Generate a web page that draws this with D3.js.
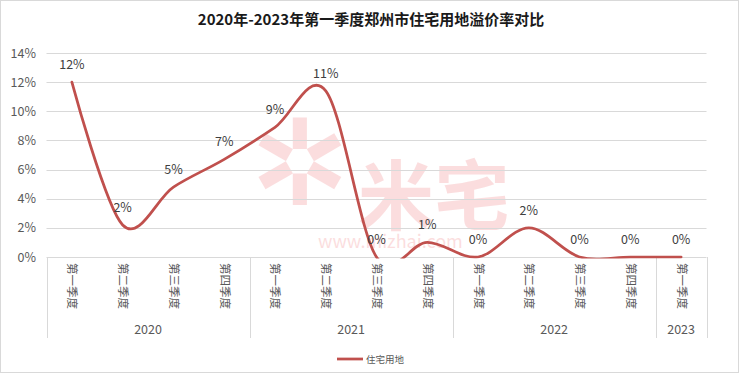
<!DOCTYPE html>
<html>
<head>
<meta charset="utf-8">
<script src="https://cdn.jsdelivr.net/npm/d3@7"></script>
<style>
  body { margin: 0; background: #fff; }
  text { font-family: "Noto Sans CJK SC", "Noto Sans", sans-serif; }
</style>
</head>
<body>
<div id="chart"></div>
<script>
// data
const years = ["2020", "2021", "2022", "2023"]
const yearCounts = [4, 4, 4, 1]
const quarters = ["第一季度", "第二季度", "第三季度", "第四季度",
                  "第一季度", "第二季度", "第三季度", "第四季度",
                  "第一季度", "第二季度", "第三季度", "第四季度",
                  "第一季度"]
const rates = [12.0, 2.2, 4.8, 6.7, 8.9, 11.4, 0.0, 1.0, 0.0, 2.0, 0.0, 0.0, 0.0]
const yTicks = [0, 2, 4, 6, 8, 10, 12, 14]
const seriesName = "住宅用地"

const width = 740, height = 374
const svg = d3.select("#chart").append("svg")
    .attr("width", width)
    .attr("height", height)

// outer frame
svg.append("rect")
    .attr("x", 0.5).attr("y", 0.5)
    .attr("width", width - 2).attr("height", height - 2)
    .attr("fill", "#fff").attr("stroke", "#d9d9d9")

// scales
const ids = quarters.map((q, i) => i)
const x = d3.scaleBand().domain(ids).range([46.5, 706.5]).padding(0)
const y = d3.scaleLinear().domain([0, 14]).range([257, 53])

// title
svg.append("text")
    .attr("x", 371).attr("y", 25)
    .attr("text-anchor", "middle")
    .attr("font-size", 15).attr("font-weight", "bold")
    .attr("fill", "#1a1a1a")
    .text("2020年-2023年第一季度郑州市住宅用地溢价率对比")

// watermark (logo + name + site)
const wm = svg.append("g").attr("opacity", 0.15).attr("fill", "#e8262b")
wm.append("text")
    .attr("x", 358).attr("y", 224)
    .attr("font-size", 76).attr("font-weight", "bold")
    .text("米宅")
wm.append("text")
    .attr("x", 300).attr("y", 205)
    .attr("text-anchor", "middle")
    .attr("font-size", 120)
    .style("font-family", "DejaVu Sans")
    .text("✲")
wm.append("text")
    .attr("x", 318).attr("y", 248)
    .attr("font-size", 18).attr("font-family", "Arial, sans-serif")
    .text("www.mizhai.com")

// gridlines + y labels
svg.append("g").selectAll("line").data(yTicks.slice(1)).join("line")
    .attr("x1", 46.5).attr("x2", 706.5)
    .attr("y1", d => Math.round(y(d)) + 0.5).attr("y2", d => Math.round(y(d)) + 0.5)
    .attr("stroke", "#d9d9d9")
svg.append("g").selectAll("text").data(yTicks).join("text")
    .attr("x", 36).attr("y", d => y(d) + 4.5)
    .attr("text-anchor", "end")
    .attr("font-size", 12.5).attr("fill", "#595959")
    .text(d => d + "%")

// category axis box
svg.append("line")
    .attr("x1", 46.5).attr("x2", 706.5).attr("y1", 257.5).attr("y2", 257.5)
    .attr("stroke", "#d9d9d9")
let starts = [0]
yearCounts.forEach((c, i) => starts.push(starts[i] + c))
const sepX = starts.map(s => s < quarters.length ? x(s) : x.range()[1])
svg.append("g").selectAll("line").data(sepX).join("line")
    .attr("x1", d => Math.round(d) + 0.5).attr("x2", d => Math.round(d) + 0.5)
    .attr("y1", 257).attr("y2", 338)
    .attr("stroke", "#d9d9d9")

// rotated quarter labels
svg.append("g").selectAll("text").data(quarters).join("text")
    .attr("transform", (d, i) => `translate(${x(i) + x.bandwidth() / 2 - 3.5},263) rotate(90)`)
    .attr("font-size", 11.5).attr("fill", "#595959")
    .text(d => d)

// year labels
svg.append("g").selectAll("text").data(years).join("text")
    .attr("x", (d, i) => (sepX[i] + sepX[i + 1]) / 2)
    .attr("y", 334)
    .attr("text-anchor", "middle")
    .attr("font-size", 12.5).attr("fill", "#595959")
    .text(d => d)

// smooth line, clipped to plot area
svg.append("clipPath").attr("id", "plotClip")
    .append("rect").attr("x", 40).attr("y", 40).attr("width", 680).attr("height", 218.5)
const line = d3.line()
    .x((d, i) => x(i) + x.bandwidth() / 2)
    .y(d => y(d))
    .curve(d3.curveCardinal.tension(0))
svg.append("path")
    .datum(rates)
    .attr("clip-path", "url(#plotClip)")
    .attr("d", line)
    .attr("fill", "none")
    .attr("stroke", "#c0504d")
    .attr("stroke-width", 2.75)
    .attr("stroke-linecap", "round")

// data labels
svg.append("g").selectAll("text").data(rates).join("text")
    .attr("x", (d, i) => x(i) + x.bandwidth() / 2)
    .attr("y", d => y(d) - 13)
    .attr("text-anchor", "middle")
    .attr("font-size", 12.5).attr("fill", "#404040")
    .text(d => Math.round(d) + "%")

// legend
svg.append("line")
    .attr("x1", 337).attr("x2", 363).attr("y1", 359).attr("y2", 359)
    .attr("stroke", "#c0504d").attr("stroke-width", 2.75)
svg.append("text")
    .attr("x", 366).attr("y", 362.5)
    .attr("font-size", 9.5).attr("fill", "#595959")
    .text(seriesName)
</script>
</body>
</html>
